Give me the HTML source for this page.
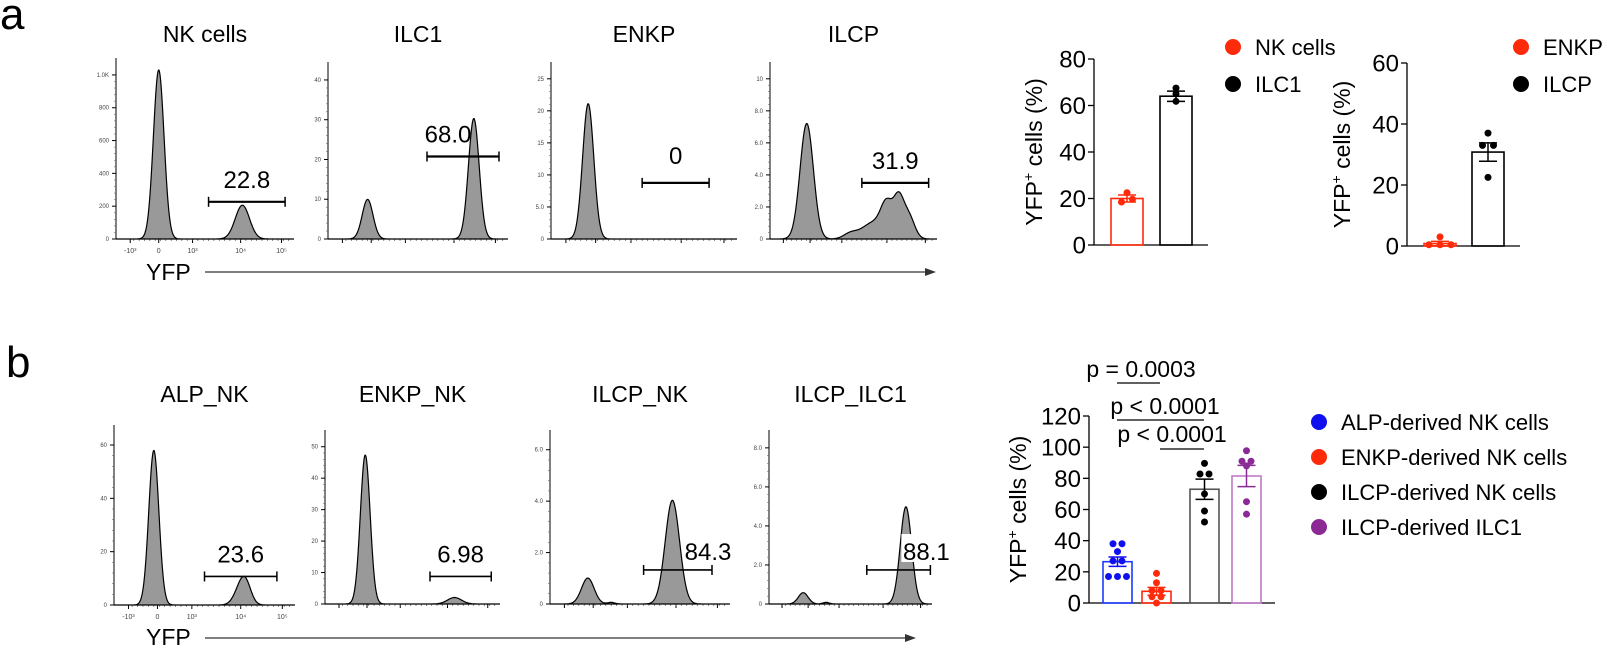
<!DOCTYPE html>
<html><head><meta charset="utf-8"><style>
html,body{margin:0;padding:0;background:#fff}
svg{display:block;font-family:"Liberation Sans",Arial,sans-serif}
</style></head><body>
<svg id="fig" width="1613" height="645" viewBox="0 0 1613 645" xmlns="http://www.w3.org/2000/svg">
<text x="0" y="29" font-size="44">a</text>
<text x="6" y="377" font-size="44">b</text>
<text x="146" y="280" font-size="23">YFP</text>
<line x1="205" y1="272" x2="928" y2="272" stroke="#555" stroke-width="1.5"/>
<polygon points="936,272 925,268 925,276" fill="#333"/>
<text x="146" y="645" font-size="23">YFP</text>
<line x1="205" y1="638" x2="908" y2="638" stroke="#555" stroke-width="1.5"/>
<polygon points="916,638 905,634 905,642" fill="#333"/>
<g id="g"></g>
</svg>
<script>
const NS="http://www.w3.org/2000/svg";
const G=document.getElementById('g');
function mk(tag,attrs,parent){const e=document.createElementNS(NS,tag);for(const k in attrs)e.setAttribute(k,attrs[k]);(parent||G).appendChild(e);return e;}
function txt(x,y,s,size,anchor,parent){const e=mk('text',{x:x,y:y,'font-size':size,'text-anchor':anchor||'middle'},parent);e.textContent=s;return e;}

// ---------- Histogram data ----------
const histTitles=["NK cells","ILC1","ENKP","ILCP","ALP_NK","ENKP_NK","ILCP_NK","ILCP_ILC1"];
const histGateLabels=["22.8","68.0","0","31.9","23.6","6.98","84.3","88.1"];
const histPeakPos=[[0.24,0.71],[0.22,0.81],[0.2],[0.22,0.48,0.62,0.7,0.77,0.83],[0.22,0.7,0.73],[0.23,0.74],[0.21,0.34,0.68],[0.21,0.35,0.84]];
const histPeakHeight=[[1.0,0.2],[0.24,0.73],[0.82],[0.7,0.03,0.1,0.18,0.22,0.14],[0.92,0.1,0.09],[0.92,0.04],[0.16,0.01,0.64],[0.07,0.01,0.6]];
const histPeakWidth=[[0.03,0.04],[0.03,0.03],[0.03],[0.04,0.04,0.07,0.035,0.03,0.035],[0.028,0.035,0.03],[0.028,0.04],[0.035,0.02,0.04],[0.03,0.02,0.035]];
const histGateStart=[0.52,0.55,0.49,0.55,0.5,0.6,0.52,0.6];
const histGateEnd=[0.95,0.95,0.85,0.95,0.9,0.95,0.9,0.99];
const histGateLevel=[0.22,0.5,0.34,0.34,0.17,0.17,0.21,0.21];
const histYTicks=[["0","200","400","600","800","1.0K"],["0","10","20","30","40"],["0","5.0","10","15","20","25"],["0","2.0","4.0","6.0","8.0","10"],["0","20","40","60"],["0","10","20","30","40","50"],["0","2.0","4.0","6.0"],["0","2.0","4.0","6.0","8.0"]];
const hx0=[116,328,551,770,114,325,550,769], hx1=[294,508,737,937,295,500,730,932];
const hyTop=[58,62,62,62,425,430,430,430], hyBase=[239,239,239,239,605,604,604,604];
const titleY=[42,42,42,42,402,402,402,402];

for(let p=0;p<8;p++){
  const g=mk('g',{});
  
  
  const x0=hx0[p],x1=hx1[p],yb=hyBase[p],yt=hyTop[p]+12,H=yb-yt,W=x1-x0;
  const sx=f=>x0+f*W, sy=f=>yb-f*H;
  const t=txt((x0+x1)/2,titleY[p],histTitles[p],23,'middle',g);
  
  
  mk('line',{x1:x0,y1:hyTop[p],x2:x0,y2:yb,stroke:'#000','stroke-width':1},g);
  mk('line',{x1:x0,y1:yb,x2:x1,y2:yb,stroke:'#000','stroke-width':1},g);
  const nt=histYTicks[p].length;
  const step=(yb-yt)/(nt-1+0.15);
  histYTicks[p].forEach((s,i)=>{const y=yb-i*step;
    mk('line',{x1:x0-4,y1:y,x2:x0,y2:y,stroke:'#000'},g);
    const l=txt(x0-7,y+2,s,6,'end',g);l.setAttribute('fill','#444');
    if(i<nt-1){for(let k=1;k<5;k++)mk('line',{x1:x0-2,y1:y-k*step/5,x2:x0,y2:y-k*step/5,stroke:'#666','stroke-width':0.6},g);}
  });
  [0.08,0.24,0.43,0.7,0.93].forEach(f=>mk('line',{x1:sx(f),y1:yb,x2:sx(f),y2:yb+4,stroke:'#000'},g));
  for(let f=0.1;f<0.98;f+=0.03)mk('line',{x1:sx(f),y1:yb,x2:sx(f),y2:yb+2,stroke:'#444','stroke-width':0.6},g);
  if(p==0||p==4){["-10³","0","10³","10⁴","10⁵"].forEach((s,i)=>{const l=txt(sx([0.08,0.24,0.43,0.7,0.93][i]),yb+14,s,7,'middle',g);l.setAttribute('fill','#444');});}
  let d='M'+x0+','+yb;
  for(let px=0;px<=W;px+=0.5){const f=px/W;let v=0;
    histPeakPos[p].forEach((c,i)=>{const w=histPeakWidth[p][i];v+=histPeakHeight[p][i]*Math.exp(-0.5*((f-c)/w)**2);});
    d+=' L'+(x0+px).toFixed(1)+','+(yb-v*H).toFixed(1);}
  d+=' L'+x1+','+yb+' Z';
  const c=mk('path',{d:d,fill:'#999',stroke:'#000','stroke-width':1.2},g);
  
  
  const gy=sy(histGateLevel[p]),ga=sx(histGateStart[p]),gb=sx(histGateEnd[p]);
  const gl=mk('line',{x1:ga,y1:gy,x2:gb,y2:gy,stroke:'#000','stroke-width':(p<4?2.2:1.6)},g);
  
  
  mk('line',{x1:ga,y1:gy-5,x2:ga,y2:gy+5,stroke:'#000','stroke-width':1.5},g);
  mk('line',{x1:gb,y1:gy-5,x2:gb,y2:gy+5,stroke:'#000','stroke-width':1.5},g);
  const lx=p>=6?gb-4:(ga+gb)/2+(p==1?-15:0);
  if(p==7){mk('rect',{x:lx-25,y:gy-36,width:50,height:28,fill:'#fff'},g);}
  const gt=txt(lx,gy-(p==2?19:p>=6?10:14),histGateLabels[p],24,'middle',g);
  
  
}

// ---------- Bar charts ----------
const a1Categories=["NK cells","ILC1"];
const a1Means=[20,64]; const a1Sem=[1.5,2.2];
const a1Points=[[22.5,18.5,19.7],[67.5,65,61.8]];
const a1Ticks=[0,20,40,60,80];
const a2Categories=["ENKP","ILCP"];
const a2Means=[0.8,30.8]; const a2Sem=[0.7,3];
const a2Points=[[3,0.4,0.4,0.4],[37,33,33,22.5]];
const a2Ticks=[0,20,40,60];
const bCategories=["ALP-derived NK cells","ENKP-derived NK cells","ILCP-derived NK cells","ILCP-derived ILC1"];
const bMeans=[26.5,7.5,73,81.5]; const bSem=[3,2.5,6.5,6.8];
const bPoints=[[38,38,33,27,27,17,17,17],[19,13,8,8,4,4,0],[89.6,82.8,82.8,70,59,52],[97.7,91,91,88,65,57]];
const bTicks=[0,20,40,60,80,100,120];
const aColors=["#ff2a0a","#000"];
const bColors=["#1010ee","#ff2a0a","#000","#8b2a95"];
const bBarStroke=["#1a3bff","#ff2a0a","#555","#c07ac8"];

function barChart(cfg){
  const g=mk('g',{});
  
  
  const y=v=>cfg.y0-(v/cfg.max)*(cfg.y0-cfg.yTop);
  mk('line',{x1:cfg.ax,y1:y(cfg.max),x2:cfg.ax,y2:cfg.y0,stroke:'#000','stroke-width':1.3},g);
  mk('line',{x1:cfg.ax,y1:cfg.y0,x2:cfg.axEnd,y2:cfg.y0,stroke:'#000','stroke-width':1.3},g);
  cfg.ticks.forEach(t=>{mk('line',{x1:cfg.ax-6,y1:y(t),x2:cfg.ax,y2:y(t),stroke:'#000','stroke-width':1.3},g);
    const l=txt(cfg.ax-8,y(t)+8.5,String(t),24,'end',g);
    
    });
  const yl=txt(0,0,'',23,'middle',g);
  yl.setAttribute('transform','translate('+cfg.labX+','+(cfg.y0+cfg.yTop)/2+') rotate(-90)');
  yl.innerHTML='YFP<tspan font-size="14" dy="-9">+</tspan><tspan dy="9"> cells (%)</tspan>';
  
  
  cfg.means.forEach((m,i)=>{
    const xa=cfg.barX[i],w=cfg.barW,cx=xa+w/2;
    const b=mk('rect',{x:xa,y:y(m),width:w,height:cfg.y0-y(m),fill:'none',stroke:cfg.barStroke[i],'stroke-width':1.6},g);
    
    
    const s=cfg.sem[i];
    mk('line',{x1:cx,y1:y(m+s),x2:cx,y2:y(m-s),stroke:cfg.colors[i],'stroke-width':1.5},g);
    mk('line',{x1:cx-9,y1:y(m+s),x2:cx+9,y2:y(m+s),stroke:cfg.colors[i],'stroke-width':1.5},g);
    mk('line',{x1:cx-9,y1:y(m-s),x2:cx+9,y2:y(m-s),stroke:cfg.colors[i],'stroke-width':1.5},g);
    const pts=cfg.points[i];
    pts.forEach((v,j)=>{
      let off=0;const same=pts.filter(q=>Math.abs(q-v)<2.5);const idx=pts.slice(0,j).filter(q=>Math.abs(q-v)<2.5).length;
      if(same.length>1)off=(idx-(same.length-1)/2)*cfg.spread;
      const dot=mk('circle',{cx:cx+off,cy:y(v),r:cfg.r,fill:cfg.colors[i]},g);
      
      
    });
  });
  cfg.legend.forEach((s,i)=>{
    const dot=mk('circle',{cx:cfg.legX,cy:cfg.legY+i*cfg.legStep,r:8,fill:cfg.colors[i]},g);
    
    
    const l=txt(cfg.legX+22,cfg.legY+i*cfg.legStep+8,s,22,'start',g);
    
    
  });
  return {g,y};
}
barChart({name:'bar-chart-a-mature',ax:1094,axEnd:1208,y0:245,yTop:59,max:80,ticks:a1Ticks,means:a1Means,sem:a1Sem,points:a1Points,
  barX:[1111,1160],barW:32,colors:aColors,barStroke:["#ff2a0a","#000"],cats:a1Categories,labX:1042,legend:a1Categories,legX:1233,legY:47,legStep:37,r:3.5,spread:11});
barChart({name:'bar-chart-a-progenitor',ax:1407,axEnd:1520,y0:246,yTop:63,max:60,ticks:a2Ticks,means:a2Means,sem:a2Sem,points:a2Points,
  barX:[1424,1472],barW:32,colors:aColors,barStroke:["#ff2a0a","#000"],cats:a2Categories,labX:1350,legend:a2Categories,legX:1521,legY:47,legStep:37,r:3.5,spread:11});
barChart({name:'bar-chart-b',ax:1089,axEnd:1275,y0:603,yTop:416,max:120,ticks:bTicks,means:bMeans,sem:bSem,points:bPoints,
  barX:[1103,1142,1190,1232],barW:29,colors:bColors,barStroke:bBarStroke,cats:bCategories,labX:1026,legend:bCategories,legX:1319,legY:422,legStep:35,r:3.5,spread:9});

const pTexts=["p = 0.0003","p < 0.0001","p < 0.0001"];
const pLineX1=[1117,1117,1160], pLineX2=[1160,1204,1204], pLineY=[383,420,449], pTextX=[1141,1165,1172], pTextY=[377,414,442];
pTexts.forEach((s,i)=>{
  const l=mk('line',{x1:pLineX1[i],y1:pLineY[i],x2:pLineX2[i],y2:pLineY[i],stroke:'#000','stroke-width':1.3});
  
  
  const t=txt(pTextX[i],pTextY[i],s,23,'middle');
  
  
});
</script>
</body></html>
